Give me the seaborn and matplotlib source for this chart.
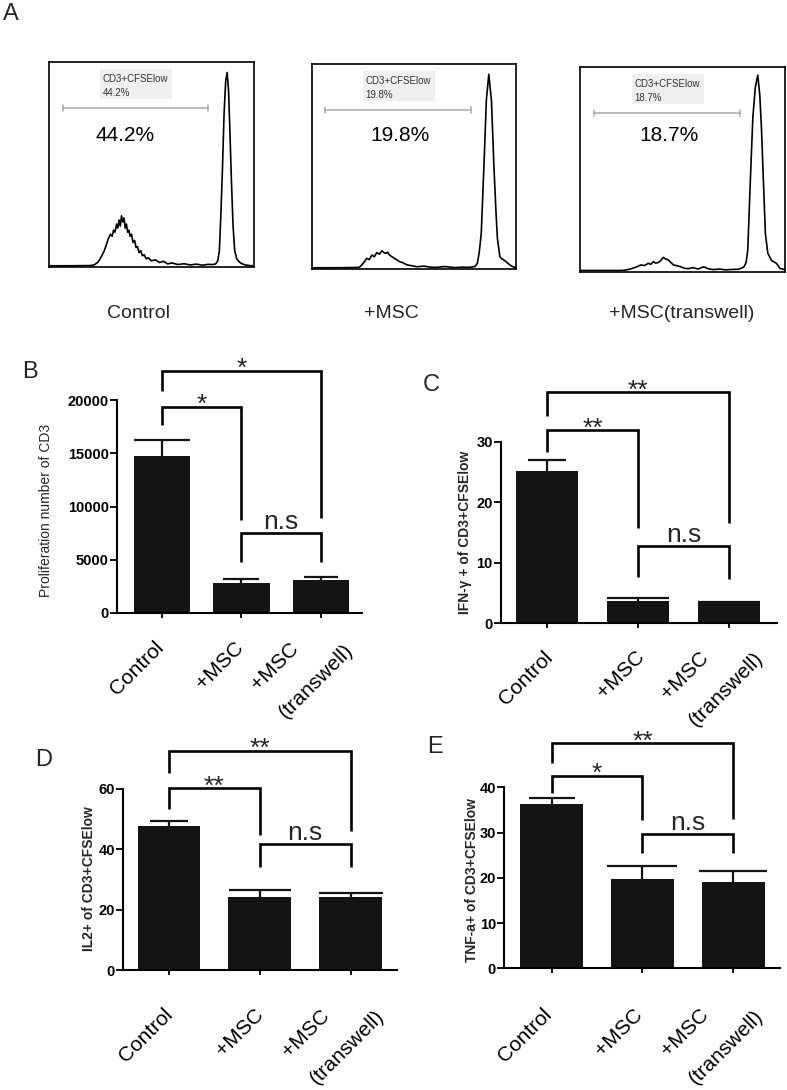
import numpy as np
import pandas as pd
import matplotlib
matplotlib.use("Agg")
import matplotlib.pyplot as plt
import matplotlib.transforms as mtransforms
from matplotlib.patches import Rectangle
import seaborn as sns

# ------------------------------------------------------------------ data
hist_groups = ["Control", "+MSC", "+MSC(transwell)"]
hist_pct = ["44.2%", "19.8%", "18.7%"]
gate_name = "CD3+CFSElow"

ctrl_x = [0, 10, 20, 22, 24, 25.5, 27, 28, 29, 30, 30.8, 31.5, 32.2, 33, 33.6, 34.2, 34.8, 35.4, 36, 36.6,
          37.2, 37.8, 38.4, 39, 39.6, 40.3, 41, 41.8, 42.5, 43.2, 44, 44.8, 45.6, 46.5, 47.5, 48.5, 50, 52, 54, 56,
          58, 60, 63, 66, 69, 72, 75, 78, 80, 81.5, 82.5, 83.3, 84, 84.8, 85.6, 86.4, 87.1, 87.8, 88.5, 89.2,
          90, 90.8, 91.8, 93, 94.5, 96, 98, 100]
ctrl_y = [0.6, 0.6, 0.7, 1.0, 2.5, 5, 8, 11, 14, 16, 15, 18, 17, 21, 19, 23, 20, 25, 22, 24,
          19, 21, 17, 18, 15, 16, 12, 13, 9.5, 10, 7, 8, 5.5, 6, 4, 4.5, 3, 3.5, 2.2, 2.8,
          1.5, 2, 1.2, 1.6, 1.0, 1.4, 0.9, 1.3, 1.2, 1.5, 3, 8, 25, 48, 75, 91, 95, 86, 65, 42,
          20, 8, 4, 2.5, 1.5, 1.0, 0.7, 0.6]

msc_x = [0, 10, 20, 23.3, 24.6, 25.8, 27, 28.2, 29.5, 30.7, 31.9, 33.1, 34.4, 35.4, 36.4, 37.2, 38.1, 39.3, 40.5, 41.7,
         43, 44.8, 46.7, 49, 51.6, 55, 58, 61.4, 65, 70, 73.7, 77, 79.9, 81.1, 82, 83, 84.3, 85.5, 86.7, 88,
         89.2, 90.2, 90.9, 92.1, 93, 94.1, 95.8, 97, 98.3, 100]
msc_y = [0.6, 0.6, 0.7, 0.8, 2.0, 3.5, 5.2, 4.6, 6.8, 6.0, 8.0, 7.2, 8.9, 8.0, 7.6, 8.2, 6.8, 6.0, 5.2, 4.5,
         3.6, 3.0, 2.0, 1.6, 1.1, 1.4, 0.9, 0.8, 1.2, 0.7, 0.9, 0.8, 1.2, 2.8, 8, 17.4, 50, 82.4, 95, 82,
         50, 28, 15, 6, 5, 4.4, 3.0, 2.0, 1.2, 0.6]

tw_x = [0, 10, 20, 22.1, 24, 25.8, 27.6, 29.5, 31.3, 33.2, 34.4, 35.6, 36.8, 38.1, 39.3, 40.5, 41.7, 43, 44.2, 45.5,
        47.3, 49.1, 51, 52.8, 55, 57.5, 60.2, 62.6, 65.1, 68, 71, 74, 77.4, 79.9, 81, 81.8, 83, 84.3, 85.5, 86.1,
        86.7, 87.7, 88.5, 89.2, 90.4, 91.6, 93.4, 95.8, 97.5, 100]
tw_y = [0.6, 0.6, 0.6, 0.8, 1.2, 1.8, 2.4, 3.3, 3.0, 4.1, 3.6, 4.9, 4.2, 4.5, 5.5, 7.0, 6.2, 5.7, 4.5, 3.3,
        2.9, 2.4, 1.6, 1.5, 2.0, 1.3, 2.4, 1.4, 1.0, 1.3, 0.9, 1.1, 1.2, 2.3, 4.5, 10.6, 43, 75.7, 90, 93,
        96, 86, 70, 51, 18.7, 9, 5.5, 4.1, 1.6, 1.0]

bar_cats = ["Control", "+MSC", "+MSC\n(transwell)"]

b_vals = [14750, 2850, 3100]
b_err = [1500, 350, 300]
c_vals = [25.2, 3.7, 3.45]
c_err = [1.7, 0.4, 0.1]
d_vals = [47.7, 24.3, 24.3]
d_err = [1.8, 2.2, 1.3]
e_vals = [36.3, 19.7, 19.0]
e_err = [1.3, 2.9, 2.4]

b_ylabel = "Proliferation number of CD3"
c_ylabel = "IFN-\u03b3 + of CD3+CFSElow"
d_ylabel = "IL2+ of CD3+CFSElow"
e_ylabel = "TNF-a+ of CD3+CFSElow"

b_sig = ["*", "*", "n.s"]
c_sig = ["**", "**", "n.s"]
d_sig = ["**", "**", "n.s"]
e_sig = ["*", "**", "n.s"]

# ------------------------------------------------------------------ style
sns.set_theme(style="ticks")
plt.rcParams["font.family"] = ["Liberation Sans", "DejaVu Sans"]
plt.rcParams["axes.linewidth"] = 1.5

W, H = 787, 1090
fig = plt.figure(figsize=(W / 100, H / 100), dpi=100)


def px_axes(l, t, r, b):
    return fig.add_axes([l / W, 1 - b / H, (r - l) / W, (b - t) / H])


# ------------------------------------------------------------------ panel A
hist_boxes = [(49.2, 62.3, 253.5, 267.0), (311.6, 64.0, 516.0, 269.0), (580.4, 67.0, 785.0, 271.7)]
hist_curves = [(ctrl_x, ctrl_y), (msc_x, msc_y), (tw_x, tw_y)]
big_pos = [(36.9, 64.0), (43.4, 64.9), (43.2, 66.3)]
for (l, t, r, b), (hx, hy), pct, (bx, by) in zip(hist_boxes, hist_curves, hist_pct, big_pos):
    ax = px_axes(l, t, r, b)
    sns.lineplot(x=hx, y=hy, ax=ax, color="black", lw=1.2, sort=False, estimator=None)
    ax.set_xlim(0, 100)
    ax.set_ylim(0, 100)
    ax.set_xticks([])
    ax.set_yticks([])
    ax.set_xlabel("")
    ax.set_ylabel("")
    for s in ax.spines.values():
        s.set_visible(True)
        s.set_linewidth(1.2)
        s.set_color("black")
    ax.add_patch(Rectangle((25, 82), 35.2, 14.5, facecolor="#efefef", edgecolor="none"))
    ax.text(26.3, 91.8, gate_name, fontsize=7, color="#333333", va="center", ha="left")
    ax.text(26.3, 85.0, pct, fontsize=7, color="#333333", va="center", ha="left")
    ax.plot([6.8, 77.9], [77.6, 77.6], color="#a8a8a8", lw=1.1)
    ax.plot([6.8, 6.8], [76.2, 79.0], color="#a8a8a8", lw=1.1)
    ax.plot([77.9, 77.9], [76.2, 79.0], color="#a8a8a8", lw=1.1)
    ax.text(bx, by, pct, fontsize=15, ha="center", va="center", color="black")

for name, cx in zip(hist_groups, [138, 391, 682]):
    fig.text(cx / W, 1 - 313 / H, name, fontsize=14, ha="center", va="center")

# ------------------------------------------------------------------ bar panels
panels = [
    dict(vals=b_vals, err=b_err, sig=b_sig, ylabel=b_ylabel, ybold=False,
         box=(117, 400, 362, 613), ylim=(0, 20000), yticks=[0, 5000, 10000, 15000, 20000],
         xlim=(-0.567, 2.52), width=0.71, caps=[20, 13, 12],
         brackets=[(0, 1, 19370, 17650, 8730), (0, 2, 22720, 20840, 8920), (1, 2, 7510, 4790, 4790)],
         ylab_x=-0.261, ylab_y=0.48, pad=22, dx=3, shift2=(16, 12)),
    dict(vals=c_vals, err=c_err, sig=c_sig, ylabel=c_ylabel, ybold=True,
         box=(501, 441.7, 777, 623.3), ylim=(0, 30), yticks=[0, 10, 20, 30],
         xlim=(-0.505, 2.527), width=0.68, caps=[14, 22, 22],
         brackets=[(0, 1, 31.9, 28.35, 15.7), (0, 2, 38.16, 34.3, 16.5), (1, 2, 12.77, 7.6, 7.27)],
         ylab_x=-0.105, ylab_y=0.503, pad=21.5, dx=7, shift2=(14, 13)),
    dict(vals=d_vals, err=d_err, sig=d_sig, ylabel=d_ylabel, ybold=True,
         box=(123.3, 789, 397, 970), ylim=(0, 60), yticks=[0, 20, 40, 60],
         xlim=(-0.503, 2.51), width=0.69, caps=[14, 22, 23],
         brackets=[(0, 1, 60.2, 53.3, 44.75), (0, 2, 72.7, 65.4, 46.2), (1, 2, 41.7, 34.0, 34.0)],
         ylab_x=-0.1, ylab_y=0.506, pad=29.5, dx=5, shift2=(15, 13)),
    dict(vals=e_vals, err=e_err, sig=e_sig, ylabel=e_ylabel, ybold=True,
         box=(504.3, 787.3, 780, 968.3), ylim=(0, 40), yticks=[0, 10, 20, 30, 40],
         xlim=(-0.519, 2.512), width=0.687, caps=[16.5, 25, 24.5],
         brackets=[(0, 1, 42.5, 38.8, 32.8), (0, 2, 49.7, 45.3, 32.9), (1, 2, 29.6, 25.5, 25.5)],
         ylab_x=-0.092, ylab_y=0.49, pad=30.5, dx=1, shift2=(15, 13)),
]

for p in panels:
    ax = px_axes(*p["box"])
    df = pd.DataFrame({"group": bar_cats, "value": p["vals"]})
    sns.barplot(data=df, x="group", y="value", order=bar_cats, color="#141414", saturation=1,
                width=p["width"], errorbar=None, edgecolor="#141414", linewidth=0, ax=ax)
    for i, (v, e) in enumerate(zip(p["vals"], p["err"])):
        _, caps, _ = ax.errorbar(i, v, yerr=[[0], [e]], fmt="none", ecolor="#141414",
                                 elinewidth=1.6, capsize=p["caps"][i], capthick=1.6, zorder=1)
        caps[0].set_visible(False)
    ax.set_xlim(*p["xlim"])
    ax.set_ylim(*p["ylim"])
    ax.set_yticks(p["yticks"])
    ax.set_yticklabels([str(t) for t in p["yticks"]], fontsize=10.5, fontweight="bold")
    ax.set_xticks(range(len(bar_cats)))
    ax.set_xticklabels(bar_cats, rotation=45, ha="right", va="baseline", rotation_mode="anchor",
                       fontsize=15, multialignment="left", linespacing=2.35)
    sns.despine(ax=ax)
    for s in ["left", "bottom"]:
        ax.spines[s].set_linewidth(1.5)
        ax.spines[s].set_color("black")
    ax.tick_params(axis="y", length=5, width=1.3, pad=1, color="black", labelcolor="black")
    ax.tick_params(axis="x", length=3.5, width=1.3, pad=p["pad"], color="black", labelcolor="black")
    for lab in ax.get_xticklabels():
        dx, dy = p["dx"], 0
        if "\n" in lab.get_text():
            dx += p["shift2"][0]
            dy += p["shift2"][1]
        off = mtransforms.ScaledTranslation(dx / 100, dy / 100, fig.dpi_scale_trans)
        lab.set_transform(lab.get_transform() + off)
    ax.set_xlabel("")
    ax.set_ylabel(p["ylabel"], fontsize=10, fontweight="bold" if p["ybold"] else "normal")
    ax.yaxis.set_label_coords(p["ylab_x"], p["ylab_y"])
    for (x1, x2, top, lb, rb), s in zip(p["brackets"], p["sig"]):
        ax.plot([x1, x1, x2, x2], [lb, top, top, rb], color="black", lw=1.9, clip_on=False,
                solid_joinstyle="miter", solid_capstyle="butt")
        yoff = 3 if s == "n.s" else -3.8
        ax.annotate(s, xy=((x1 + x2) / 2, top), xytext=(0, yoff), textcoords="offset points",
                    ha="center", va="baseline", fontsize=19, annotation_clip=False)

for lab, (x, y) in zip("ABCDE", [(11, 14), (29.5, 372.5), (431, 385), (44, 760), (435, 747)]):
    fig.text(x / W, 1 - y / H, lab, fontsize=17, ha="center", va="center")

fig.savefig("out.png", dpi=100)
